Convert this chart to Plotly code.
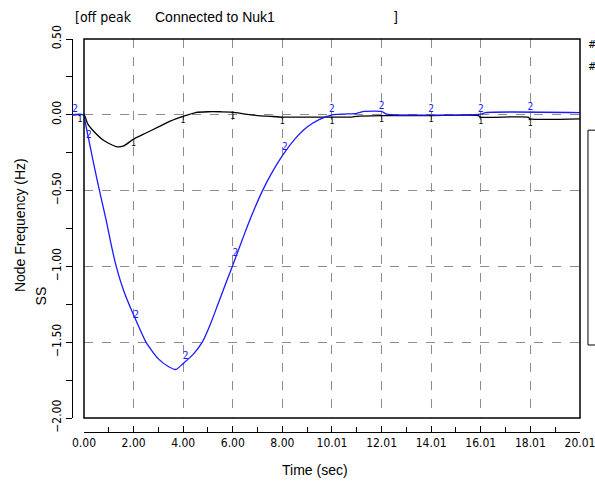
import numpy as np
import plotly.graph_objects as go

# ---- data -------------------------------------------------------------
# Series 1 (black): node frequency deviation, Hz (pre-event sample at t<0)
t1 = [-0.5, 0.0, 0.15, 0.4, 0.8, 1.3, 1.6, 2.0, 2.5, 3.0, 3.5, 4.0, 4.5, 5.0,
      5.5, 6.0, 6.5, 7.0, 7.5, 8.0, 9.0, 10.0, 10.8, 11.0, 12.0, 14.0, 15.9,
      16.0, 17.9, 18.0, 20.0]
f1 = [0.0, 0.0, -0.06, -0.11, -0.17, -0.21, -0.205, -0.16, -0.12, -0.08,
      -0.04, -0.01, 0.015, 0.02, 0.02, 0.018, 0.005, -0.005, -0.01, -0.015,
      -0.015, -0.015, -0.015, -0.01, -0.005, -0.005, -0.005, -0.015, -0.015,
      -0.027, -0.027]

# Series 2 (blue): node frequency deviation, Hz (pre-event sample at t<0)
t2 = [-0.5, 0.0, 0.05, 0.2, 0.4, 0.65, 0.9, 1.1, 1.3, 1.6, 2.0, 2.5, 3.0,
      3.4, 3.7, 4.0, 4.4, 4.77, 5.1, 5.4, 5.7, 5.98, 6.3, 6.6, 6.9, 7.2,
      7.55, 8.0, 8.5, 9.0, 9.5, 10.0, 10.5, 11.0, 11.3, 12.0, 12.2, 16.0,
      16.2, 20.0]
f2 = [0.0, 0.0, -0.05, -0.17, -0.33, -0.52, -0.7, -0.86, -1.0, -1.16, -1.32,
      -1.5, -1.61, -1.66, -1.68, -1.64, -1.58, -1.5, -1.38, -1.25, -1.12,
      -1.0, -0.86, -0.73, -0.61, -0.5, -0.39, -0.27, -0.16, -0.08, -0.03,
      0.0, 0.005, 0.01, 0.022, 0.022, 0.005, 0.005, 0.015, 0.015]

# Curve identifier labels are drawn every 2 s along each series
lab1_t = [-0.16, 2.0, 4.0, 6.0, 8.0, 10.0, 12.0, 14.0, 16.0, 18.0]
lab2_t = [-0.36, 0.2, 2.1, 4.1, 6.1, 8.1, 10.0, 12.0, 14.0, 16.0, 18.0]

x_tick_vals = [0, 2, 4, 6, 8, 10, 12, 14, 16, 18, 20]
x_tick_text = ["0.00", "2.00", "4.00", "6.00", "8.00", "10.01", "12.01",
               "14.01", "16.01", "18.01", "20.01"]
y_tick_vals = [0.5, 0.0, -0.5, -1.0, -1.5, -2.0]
y_tick_text = ["0.50", "0.00", "\u22120.50", "\u22121.00", "\u22121.50", "\u22122.00"]

BLUE = "#1a1aff"
BLACK = "#000000"
NARROW = "DejaVu Sans Condensed, Liberation Sans Narrow, sans-serif"
TICK_FONT = dict(family=NARROW, size=12, color="#000")
TEXT_FONT = dict(family="Liberation Sans, Arial, sans-serif", size=14, color="#000")

# ---- geometry -----------------------------------------------------------
W, H = 595, 484
ML, MR, MT, MB = 72, 15, 39, 52
PW, PH = W - ML - MR, H - MT - MB          # paper area in px
AX_GAP_X, AX_GAP_Y = 12, 14                # offset of the ticked axes from the frame
X_MAX = 20.001
Y_RANGE = [-2.0, 0.5]
X_DOM = [AX_GAP_X / PW, 1.0]
Y_DOM = [AX_GAP_Y / PH, 1.0]
px_per_sec = PW * (X_DOM[1] - X_DOM[0]) / X_MAX
X_FULL = [-AX_GAP_X / px_per_sec, X_MAX]   # same scale, extended to the left axis line

fig = go.Figure()

# empty traces so the grid subplot and the offset ticked axes are created
fig.add_trace(go.Scatter(x=[None], y=[None], xaxis="x", yaxis="y", hoverinfo="skip"))
fig.add_trace(go.Scatter(x=[None], y=[None], xaxis="x2", yaxis="y2", hoverinfo="skip"))

trace_ax = dict(xaxis="x3", yaxis="y3", hoverinfo="skip")
fig.add_trace(go.Scatter(x=t1, y=f1, mode="lines", line=dict(color=BLACK, width=1.3,
                         shape="spline", smoothing=0.6), **trace_ax))
fig.add_trace(go.Scatter(x=t2, y=f2, mode="lines", line=dict(color=BLUE, width=1.3,
                         shape="spline", smoothing=0.6), **trace_ax))

fig.add_trace(go.Scatter(x=lab1_t, y=list(np.interp(lab1_t, t1, f1)), mode="text",
                         text=["1"] * len(lab1_t), textposition="bottom center",
                         textfont=dict(family=NARROW, size=9, color=BLACK),
                         cliponaxis=False, **trace_ax))
fig.add_trace(go.Scatter(x=lab2_t, y=list(np.interp(lab2_t, t2, f2)), mode="text",
                         text=["2"] * len(lab2_t), textposition="top center",
                         textfont=dict(family=NARROW, size=10, color=BLUE),
                         cliponaxis=False, **trace_ax))

# ---- axes --------------------------------------------------------------
GRID = dict(showgrid=True, gridcolor="#8c8c8c", griddash="dash", gridwidth=1)

fig.update_layout(
    width=W, height=H,
    margin=dict(l=ML, r=MR, t=MT, b=MB, autoexpand=False),
    paper_bgcolor="white", plot_bgcolor="rgba(0,0,0,0)",
    showlegend=False,
    xaxis=dict(domain=X_DOM, range=[0, X_MAX], tickvals=[2, 4, 6, 8, 10, 12, 14, 16, 18],
               showticklabels=False, ticks="", zeroline=False, showline=False,
               automargin=False, **GRID),
    yaxis=dict(domain=Y_DOM, range=Y_RANGE, tickvals=[0.0, -0.5, -1.0, -1.5],
               showticklabels=False, ticks="", zeroline=False, showline=False,
               automargin=False, **GRID),
    xaxis2=dict(overlaying="x", anchor="free", position=0, side="bottom",
                range=[0, X_MAX], tickvals=x_tick_vals, ticktext=x_tick_text,
                ticks="inside", ticklen=6, tickcolor="#000", tickwidth=1,
                minor=dict(dtick=1, tick0=0, ticks="inside", ticklen=5,
                           tickcolor="#000", showgrid=False),
                showline=True, linecolor="#000", linewidth=1, ticklabeloverflow="allow",
                showgrid=False, zeroline=False, tickfont=TICK_FONT, tickangle=0,
                automargin=False),
    yaxis2=dict(overlaying="y", anchor="free", position=0, side="left",
                range=Y_RANGE, tickvals=y_tick_vals, ticktext=y_tick_text,
                ticks="outside", ticklen=6, tickcolor="#000", tickwidth=1,
                minor=dict(dtick=0.25, tick0=0, ticks="outside", ticklen=6,
                           tickcolor="#000", showgrid=False),
                showline=True, linecolor="#000", linewidth=1, ticklabeloverflow="allow",
                showgrid=False, zeroline=False, tickfont=TICK_FONT, tickangle=-90,
                automargin=False),
    # hidden axes spanning up to the left axis line, used for the data traces
    xaxis3=dict(domain=[0, 1], range=X_FULL, anchor="y3", visible=False,
                showgrid=False, zeroline=False, automargin=False),
    yaxis3=dict(domain=Y_DOM, range=Y_RANGE, anchor="x3", visible=False,
                showgrid=False, zeroline=False, automargin=False),
)

# plot frame
fig.add_shape(type="rect", xref="x domain", yref="y domain", x0=0, x1=1, y0=0, y1=1,
              line=dict(color="#000", width=1.5), layer="above")
# partially visible legend box at the right edge
fig.add_shape(type="rect", xref="paper", yref="paper", x0=1.0157, x1=1.2,
              y0=0.2214, y1=0.768, line=dict(color="#000", width=1))

# ---- text --------------------------------------------------------------
ann = [
    dict(text="[off peak", x=0.002, y=1.056, xanchor="left",
         font=dict(family=NARROW, size=14, color="#000")),
    dict(text="Connected to Nuk1", x=0.159, y=1.056, xanchor="left", font=TEXT_FONT),
    dict(text="]", x=0.628, y=1.056, xanchor="left",
         font=dict(family=NARROW, size=14, color="#000")),
    dict(text="Node Frequency (Hz)", x=-0.102, y=0.527, textangle=-90, font=TEXT_FONT),
    dict(text="SS", x=-0.061, y=0.345, textangle=-90, font=TEXT_FONT),
    dict(text="Time (sec)", x=0.478, y=-0.097, font=TEXT_FONT),
    dict(text="#", x=1.012, y=0.985, xanchor="left",
         font=dict(family=NARROW, size=11, color="#000")),
    dict(text="#", x=1.012, y=0.93, xanchor="left",
         font=dict(family=NARROW, size=11, color="#000")),
]
for a in ann:
    a.setdefault("xref", "paper")
    a.setdefault("yref", "paper")
    a.setdefault("showarrow", False)
    a.setdefault("xanchor", "center")
    a.setdefault("yanchor", "middle")
    fig.add_annotation(**a)

fig.write_html("out.html")
